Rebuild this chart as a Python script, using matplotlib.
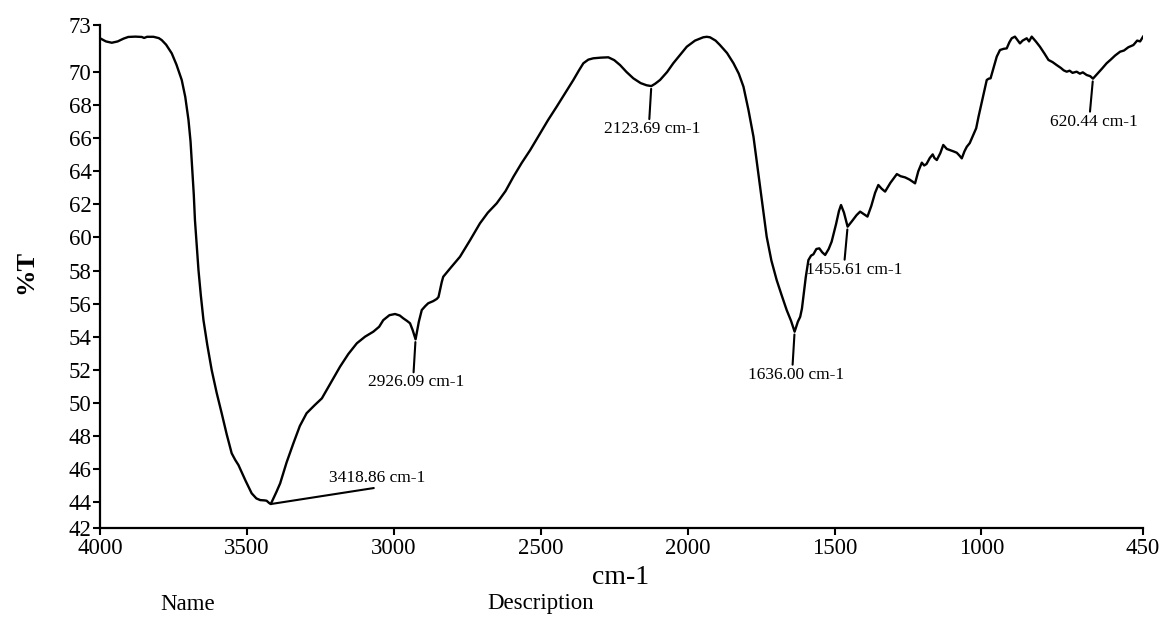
import matplotlib
matplotlib.use('Agg')
import matplotlib.pyplot as plt
import numpy as np

plt.rcParams['font.family'] = ['Liberation Serif', 'DejaVu Serif']

# FTIR spectrum: wavenumber (cm-1) and transmittance (%T)
wavenumber = [4000, 3980, 3960, 3940, 3920, 3904, 3880, 3858, 3850, 3840, 3818, 3800, 3790, 3775,
              3756, 3740, 3722, 3710, 3699, 3692, 3686, 3681, 3677, 3671, 3665, 3657, 3648, 3635,
              3620, 3603, 3586, 3569, 3552, 3540, 3529, 3505, 3484, 3468, 3455, 3440, 3433, 3425,
              3418.86, 3400, 3387, 3365, 3342, 3320, 3297, 3270, 3245, 3215, 3183, 3155, 3126,
              3098, 3070, 3050, 3036, 3015, 2996, 2980, 2968, 2955, 2945, 2936, 2926.09, 2915,
              2905, 2893, 2883, 2866, 2854, 2848, 2843, 2837, 2832, 2805, 2775, 2740, 2707, 2680,
              2650, 2620, 2593, 2565, 2536, 2502, 2475, 2446, 2418, 2389, 2370, 2355, 2338, 2321,
              2295, 2270, 2250, 2230, 2208, 2185, 2160, 2140, 2123.69, 2110, 2094, 2070, 2049,
              2025, 2003, 1975, 1947, 1935, 1924, 1905, 1890, 1866, 1844, 1826, 1810, 1793, 1776,
              1765, 1754, 1742, 1731, 1715, 1697, 1680, 1663, 1648, 1636.00, 1625, 1617, 1611,
              1606, 1598, 1589, 1580, 1572, 1562, 1552, 1542, 1532, 1520, 1510, 1495, 1485, 1478,
              1468, 1455.61, 1440, 1425, 1413, 1400, 1388, 1375, 1362, 1351, 1340, 1328, 1310,
              1288, 1275, 1260, 1245, 1226, 1215, 1203, 1195, 1187, 1176, 1166, 1160, 1152, 1140,
              1130, 1118, 1107, 1095, 1084, 1075, 1067, 1058, 1050, 1040, 1028, 1018, 1010, 995,
              982, 975, 969, 958, 948, 937, 925, 914, 905, 897, 886, 878, 869, 860, 846, 838, 829,
              815, 801, 785, 772, 758, 744, 730, 720, 710, 700, 690, 676, 665, 655, 642, 630,
              620.44, 605, 590, 574, 560, 545, 528, 515, 500, 483, 470, 460, 450]
transmittance = [72.04, 71.85, 71.77, 71.85, 72.02, 72.12, 72.14, 72.12, 72.06, 72.13, 72.13, 72.05,
                 71.93, 71.65, 71.13, 70.45, 69.52, 68.5, 67.1, 65.8, 64.07, 62.6, 61.05, 59.5,
                 58.03, 56.5, 55.0, 53.5, 51.98, 50.6, 49.37, 48.1, 46.95, 46.55, 46.24, 45.3,
                 44.53, 44.22, 44.12, 44.1, 44.08, 43.95, 43.88, 44.6, 45.13, 46.4, 47.55, 48.6,
                 49.37, 49.85, 50.27, 51.2, 52.19, 52.95, 53.6, 54.0, 54.3, 54.6, 55.0, 55.3,
                 55.37, 55.28, 55.11, 54.95, 54.81, 54.4, 53.84, 54.9, 55.61, 55.85, 56.02, 56.15,
                 56.28, 56.4, 56.82, 57.3, 57.62, 58.2, 58.83, 59.85, 60.85, 61.5, 62.06, 62.8,
                 63.67, 64.5, 65.28, 66.29, 67.1, 67.9, 68.7, 69.52, 70.1, 70.53, 70.75, 70.83,
                 70.87, 70.89, 70.72, 70.42, 70.0, 69.62, 69.33, 69.2, 69.15, 69.3, 69.52, 70.0,
                 70.53, 71.05, 71.53, 71.9, 72.1, 72.13, 72.1, 71.9, 71.63, 71.15, 70.53, 69.9,
                 69.11, 67.7, 66.09, 64.6, 63.07, 61.5, 60.04, 58.6, 57.42, 56.5, 55.61, 54.95,
                 54.3, 54.9, 55.2, 55.7, 56.41, 57.6, 58.63, 58.9, 58.98, 59.3, 59.34, 59.1,
                 58.94, 59.3, 59.74, 60.8, 61.6, 61.96, 61.5, 60.65, 61.0, 61.35, 61.56, 61.4,
                 61.26, 61.9, 62.7, 63.17, 62.95, 62.77, 63.3, 63.83, 63.7, 63.63, 63.5, 63.27,
                 64.0, 64.52, 64.35, 64.44, 64.8, 65.02, 64.8, 64.68, 65.1, 65.59, 65.35, 65.28,
                 65.2, 65.12, 64.95, 64.78, 65.2, 65.48, 65.7, 66.19, 66.6, 67.3, 68.5, 69.52,
                 69.6, 69.62, 70.3, 70.93, 71.33, 71.4, 71.43, 71.8, 72.04, 72.14, 71.95, 71.73,
                 71.9, 72.04, 71.85, 72.14, 71.85, 71.53, 71.1, 70.73, 70.6, 70.42, 70.25, 70.1,
                 70.02, 70.08, 69.95, 70.02, 69.9, 69.98, 69.82, 69.75, 69.6, 69.9, 70.2, 70.53,
                 70.75, 71.0, 71.23, 71.3, 71.5, 71.63, 71.9, 71.85, 72.14]

# labelled peaks
peak_wn = [3418.86, 2926.09, 2123.69, 1636.00, 1455.61, 620.44]
peak_labels = ['3418.86 cm-1', '2926.09 cm-1', '2123.69 cm-1', '1636.00 cm-1',
               '1455.61 cm-1', '620.44 cm-1']

x_ticks = [4000, 3500, 3000, 2500, 2000, 1500, 1000, 450]
y_ticks = [42.43, 44, 46, 48, 50, 52, 54, 56, 58, 60, 62, 64, 66, 68, 70, 72.84]
y_tick_labels = ['42', '44', '46', '48', '50', '52', '54', '56', '58', '60',
                 '62', '64', '66', '68', '70', '73']

fig = plt.figure(figsize=(11.62, 6.17), dpi=100)
ax = fig.add_axes([0.0861, 0.1442, 0.8976, 0.8152])

ax.plot(wavenumber, transmittance, color='black', lw=1.7)

ax.set_xlim(4000, 450)
ax.set_ylim(y_ticks[0], y_ticks[-1])
ax.set_xticks(x_ticks)
ax.set_xticklabels([str(t) for t in x_ticks])
ax.set_yticks(y_ticks)
ax.set_yticklabels(y_tick_labels)
ax.tick_params(axis='both', labelsize=16.5, width=1.5, length=5, direction='out')
ax.tick_params(axis='y', pad=1)
ax.tick_params(axis='x', pad=2)

for s in ['top', 'right']:
    ax.spines[s].set_visible(False)
for s in ['left', 'bottom']:
    ax.spines[s].set_linewidth(1.6)

px = 0.72  # points per pixel at 100 dpi
wn_arr = np.array(wavenumber)
tr_arr = np.array(transmittance)
for wn, lab in zip(peak_wn, peak_labels):
    val = tr_arr[np.argmin(np.abs(wn_arr - wn))]
    if wn == 3418.86:
        ax.annotate('', xy=(wn, val), xytext=(103 * px, 16 * px), textcoords='offset points',
                    arrowprops=dict(arrowstyle='-', lw=1.5, color='black',
                                    shrinkA=0, shrinkB=0, patchA=None))
        ax.annotate(lab, xy=(wn, val), xytext=(106 * px, 18 * px), textcoords='offset points',
                    ha='center', va='bottom', fontsize=12.5)
    else:
        dx = 7 if wn == 1455.61 else 1
        lx = -3 if wn in (1455.61, 620.44) else -2
        ax.annotate('', xy=(wn, val), xytext=(lx * px, -33 * px), textcoords='offset points',
                    arrowprops=dict(arrowstyle='-', lw=1.5, color='black',
                                    shrinkA=0, shrinkB=2, patchA=None))
        ax.annotate(lab, xy=(wn, val), xytext=(dx * px, -35 * px), textcoords='offset points',
                    ha='center', va='top', fontsize=12.5)

fig.text(621 / 1162, 1 - 578 / 617, 'cm-1', ha='center', va='center', fontsize=20)
fig.text(26 / 1162, 1 - 272 / 617, '%T', ha='center', va='center', fontsize=19,
         fontweight='bold', rotation=90)
fig.text(188 / 1162, 1 - 604 / 617, 'Name', ha='center', va='center', fontsize=16.5)
fig.text(541 / 1162, 1 - 604 / 617, 'Description', ha='center', va='center', fontsize=16.5)

fig.savefig('out.png', dpi=100)
